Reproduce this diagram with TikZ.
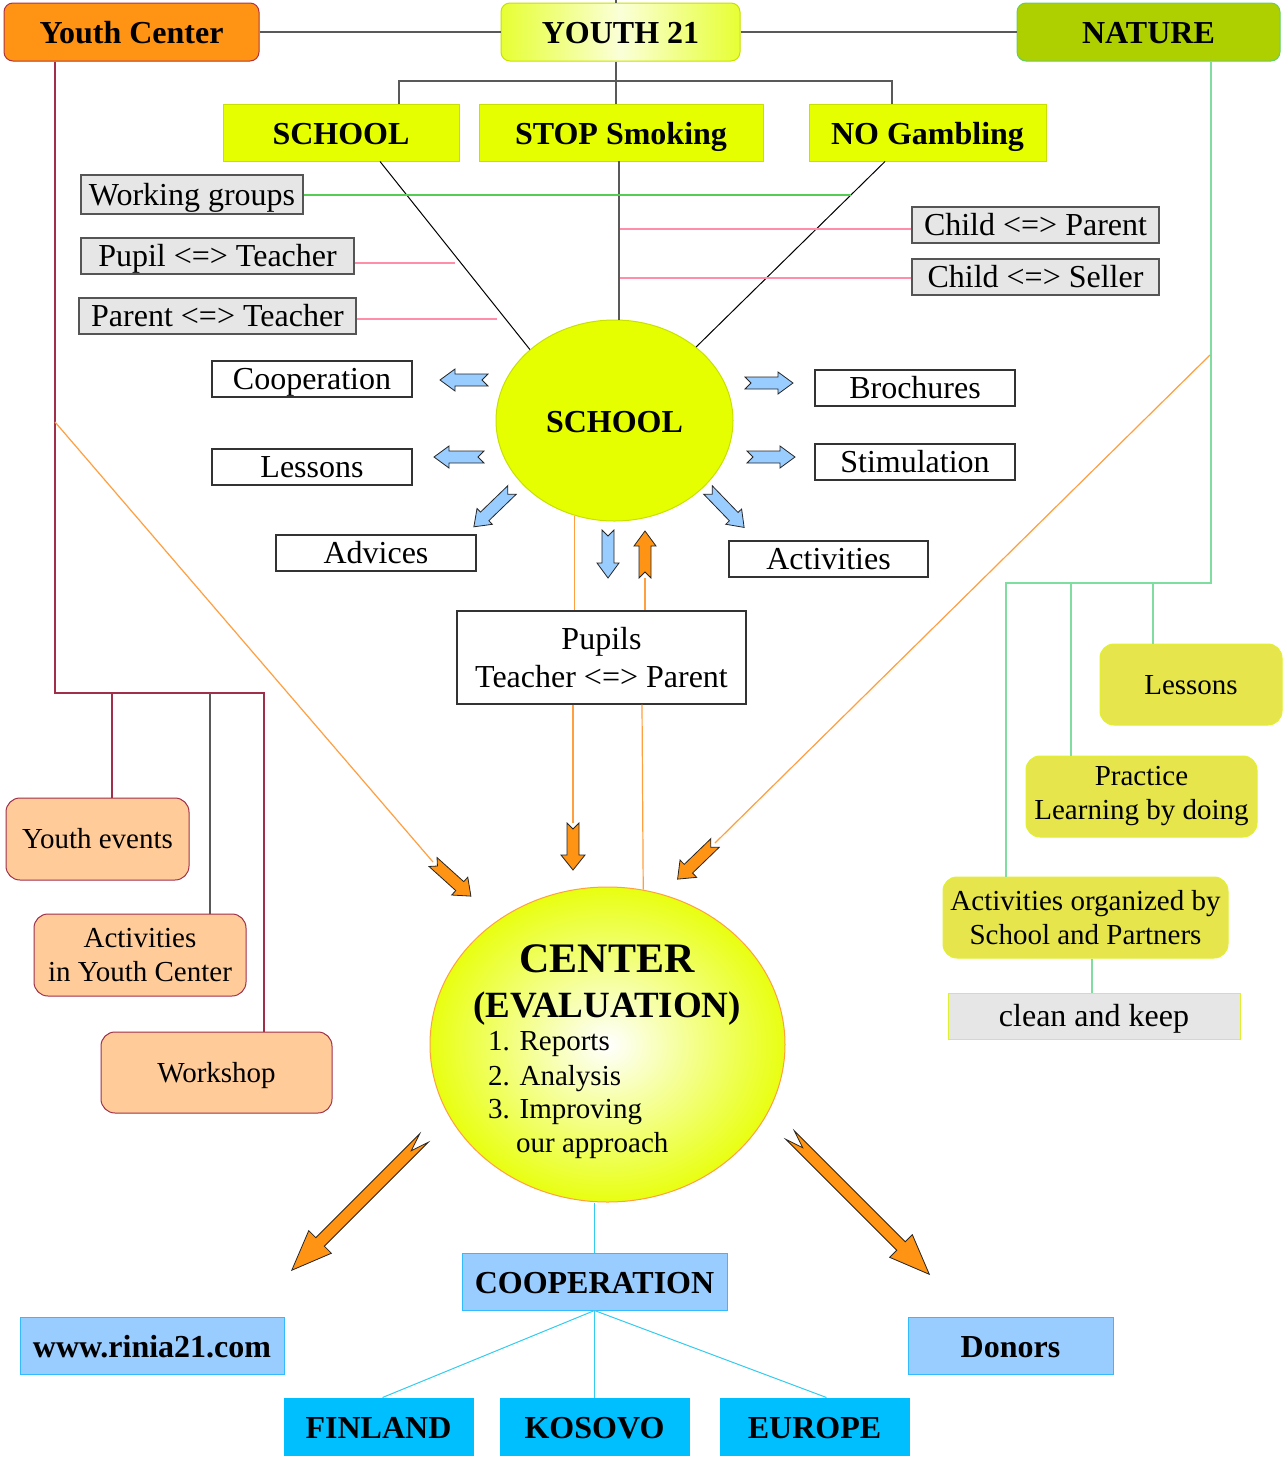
\documentclass[tikz,border=0pt]{standalone}
\usepackage{fontspec}
\setmainfont{Liberation Serif}
\usetikzlibrary{shapes.geometric,calc}
\definecolor{ycOrange}{HTML}{FF9314}
\definecolor{ycBorder}{HTML}{B2333F}
\definecolor{natGreen}{HTML}{AECF00}
\definecolor{natBorder}{HTML}{66CC66}
\definecolor{yel}{HTML}{E6FF00}
\definecolor{yelBorder}{HTML}{C8E000}
\definecolor{yEdge}{HTML}{E6FF33}
\definecolor{yMid}{HTML}{FBFFD8}
\definecolor{grayFill}{HTML}{E6E6E6}
\definecolor{grayBorder}{HTML}{555555}
\definecolor{lblue}{HTML}{99CCFF}
\definecolor{lblueBorder}{HTML}{33BBFF}
\definecolor{cblue}{HTML}{00BFFF}
\definecolor{cyanLine}{HTML}{33CCEE}
\definecolor{peach}{HTML}{FFCC99}
\definecolor{maroon}{HTML}{A0304A}
\definecolor{olive}{HTML}{E6E64C}
\definecolor{oliveBorder}{HTML}{E0F030}
\definecolor{natLine}{HTML}{80DDA0}
\definecolor{pinkLine}{HTML}{FF8FA8}
\definecolor{wgGreen}{HTML}{55CC55}
\definecolor{orLine}{HTML}{FF9F3F}
\definecolor{arrOrange}{HTML}{FF9314}
\definecolor{cenYel}{HTML}{E8FF10}

\newcommand\myblockarrow[9]{%
\begin{scope}[shift={(#2,#3)},rotate=#4]
\draw[fill=#1,draw=black!85,line width=0.8pt,line join=miter]
 (0,{-#6}) -- ({#5-#8},{-#6}) -- ({#5-#8},{-#7}) -- (#5,0) -- ({#5-#8},#7) -- ({#5-#8},#6) -- (0,#6) -- (#9,0) -- cycle;
\end{scope}}

\tikzset{
 every node/.style={inner sep=0pt, align=center},
 fbig/.style={font=\fontsize{32}{38}\selectfont},
 fbold/.style={font=\bfseries\fontsize{32}{38}\selectfont},
 fsmall/.style={font=\fontsize{29}{34}\selectfont},
 t1/.style={text height=27pt, text depth=6pt},
 tb/.style={text height=29pt, text depth=6pt},
 ts/.style={text height=25pt, text depth=6pt},
 wh/.style 2 args={minimum width=#1pt, minimum height=#2pt},
 topbox/.style={rounded corners=9pt, fbold, tb, line width=1pt},
 yelbox/.style={fill=yel, draw=yelBorder, line width=1pt, fbold, tb},
 graybox/.style={fill=grayFill, draw=grayBorder, line width=1.2pt, fbig, t1},
 whitebox/.style={fill=white, draw=black!80, line width=1.2pt, fbig},
 peachbox/.style={fill=peach, draw=maroon, rounded corners=14pt, line width=1pt, fsmall},
 olivebox/.style={fill=olive, draw=oliveBorder, rounded corners=14pt, line width=1pt, fsmall},
 bluebox/.style={fill=lblue, draw=lblueBorder, line width=1pt, fbold, tb},
 cbox/.style={fill=cblue, draw=cblue, line width=1pt, fbold, tb},
 gline/.style={draw=black!65, line width=1.2pt},
 bline/.style={draw=black, line width=1pt},
 pinkl/.style={draw=pinkLine, line width=1.2pt},
 wgline/.style={draw=wgGreen, line width=1.2pt},
 mline/.style={draw=maroon, line width=1.2pt},
 nline/.style={draw=natLine, line width=1.3pt},
 oline/.style={draw=orLine, line width=1.2pt},
 cline/.style={draw=cyanLine, line width=1pt},
}

\begin{document}
\begin{tikzpicture}[x=1pt,y=-1pt]
\useasboundingbox (0,0) rectangle (1283,1457);
\fill[white] (0,0) rectangle (1283,1457);

% top row
\node[topbox, fill=ycOrange, draw=ycBorder, wh={255}{58}] (yc) at (131.5,32) {Youth Center};
\node[topbox, left color=yEdge, right color=yEdge, middle color=yMid, draw=yelBorder, wh={239}{58}] (y21) at (620.5,32) {YOUTH 21};
\node[topbox, fill=natGreen, draw=natBorder, wh={263}{58}] (nat) at (1148.5,32) {NATURE};

% second row
\node[yelbox, wh={236}{57}] (sch) at (341,132.5) {SCHOOL};
\node[yelbox, wh={284}{57}] (stop) at (621,132.5) {STOP Smoking};
\node[yelbox, wh={237}{57}] (nog) at (927.5,132.5) {NO Gambling};

% gray boxes
\node[graybox, wh={222}{39}] (wg) at (192,194.5) {Working groups};
\node[graybox, wh={273}{36}] (pt) at (217.5,256) {Pupil <=> Teacher};
\node[graybox, wh={277}{36}] (prt) at (217.5,316) {Parent <=> Teacher};
\node[graybox, wh={247}{36}] (cp) at (1035.5,225) {Child <=> Parent};
\node[graybox, wh={247}{36}] (cs) at (1035.5,277) {Child <=> Seller};

% school ellipse
\node[ellipse, fill=yel, draw=yelBorder, line width=1pt, wh={237}{201}, fbold, tb] (schE) at (614.5,420.5) {SCHOOL};

% white boxes
\node[whitebox, t1, wh={200}{36}] (coop) at (312,379) {Cooperation};
\node[whitebox, t1, wh={200}{36}] (less) at (312,467) {Lessons};
\node[whitebox, t1, wh={200}{36}] (adv) at (376,553) {Advices};
\node[whitebox, t1, wh={200}{36}] (broch) at (915,388) {Brochures};
\node[whitebox, t1, wh={200}{36}] (stim) at (915,462) {Stimulation};
\node[whitebox, t1, wh={199}{36}] (act) at (828.5,559) {Activities};
\node[whitebox, wh={289}{93}] (pup) at (601.5,657.5) {Pupils\\Teacher <=> Parent};

% center ellipse
\node[ellipse, inner color=white, outer color=cenYel, draw=orLine, line width=1pt, wh={355}{315}] (cen) at (607.5,1044.5) {};
\node[font=\bfseries\fontsize{42}{46}\selectfont, anchor=base] (cenA) at (607,972) {CENTER};
\node[font=\bfseries\fontsize{37}{42}\selectfont, anchor=base] (cenB) at (607,1017) {(EVALUATION)};
\node[fsmall, anchor=base west] (cl1) at (488,1050) {1. Reports};
\node[fsmall, anchor=base west] (cl2) at (488,1085) {2. Analysis};
\node[fsmall, anchor=base west] (cl3) at (488,1118) {3. Improving};
\node[fsmall, anchor=base west] (cl4) at (516,1152) {our approach};

% bottom boxes
\node[bluebox, wh={265}{57}] (coo2) at (594.5,1281.5) {COOPERATION};
\node[bluebox, wh={264}{57}] (www) at (152,1345.5) {www.rinia21.com};
\node[bluebox, wh={205}{57}] (don) at (1010.5,1345.5) {Donors};
\node[cbox, wh={189}{57}] (fin) at (378.5,1426.5) {FINLAND};
\node[cbox, wh={189}{57}] (kos) at (594.5,1426.5) {KOSOVO};
\node[cbox, wh={189}{57}] (eur) at (814.5,1426.5) {EUROPE};

% left peach boxes
\node[peachbox, ts, wh={183}{82}] (ye) at (97.5,839) {Youth events};
\node[peachbox, wh={212}{82}] (ayc) at (140,955) {Activities\\in Youth Center};
\node[peachbox, ts, wh={231}{81}] (ws) at (216.5,1072.5) {Workshop};

% right olive boxes
\node[olivebox, ts, wh={182}{81}] (les2) at (1191,684.5) {Lessons};
\node[olivebox, wh={231}{81}] (prac) at (1141.5,796.5) {Practice\\Learning by doing};
\node[olivebox, wh={285}{81}] (aosp) at (1085.5,917.5) {Activities organized by\\School and Partners};
\node[fill=grayFill, draw=oliveBorder, line width=1pt, fbig, t1, wh={292}{46}] (ck) at (1094,1016) {clean and keep};

% top connectors
\coordinate (top) at (616,0);
\coordinate (bus) at (616,81);
\coordinate (bL) at (399,81);
\coordinate (bR) at (892,81);
\draw[gline] (yc.east) -- (y21.west);
\draw[gline] (y21.east) -- (nat.west);
\draw[gline] (top) -- (top |- y21.north);
\draw[gline] (bus |- y21.south) -- (bus |- stop.north);
\draw[gline] (bL |- sch.north) -- (bL) -- (bR) -- (bR |- nog.north);

\coordinate (schA) at ([xshift=39pt]sch.south);
\coordinate (nogA) at ([xshift=-42.5pt]nog.south);
\draw[bline] (schA) -- (schE.140);
\draw[bline] (nogA) -- (schE.42);
\coordinate (stopL) at (619,161);
\draw[gline] (stopL) -- (stopL |- schE.north);

\coordinate (wgE) at (851,195);
\coordinate (ptE) at (455,263);
\coordinate (prE) at (497,319);
\coordinate (cpE) at (620,229);
\coordinate (csE) at (620,278);
\draw[wgline] (wg.east |- wgE) -- (wgE);
\draw[pinkl] (pt.east |- ptE) -- (ptE);
\draw[pinkl] (prt.east |- prE) -- (prE);
\draw[pinkl] (cp.west |- cpE) -- (cpE);
\draw[pinkl] (cs.west |- csE) -- (csE);

% youth center tree
\coordinate (ycT) at (55,693);
\coordinate (ycR) at (264,693);
\coordinate (yeT) at (112,693);
\coordinate (aycT) at (210,693);
\draw[mline] (yc.south -| ycT) -- (ycT) -- (ycR) -- (ycR |- ws.north);
\draw[mline] (yeT) -- (yeT |- ye.north);
\draw[gline] (aycT) -- (aycT |- ayc.north);

% nature tree
\coordinate (natT) at (1211,583);
\coordinate (natL) at (1006,583);
\coordinate (lesT) at (1153,583);
\coordinate (pracT) at (1071,583);
\coordinate (ckT) at (1092,958);
\draw[nline] (nat.south -| natT) -- (natT) -- (natL) -- (natL |- aosp.north);
\draw[nline] (lesT) -- (lesT |- les2.north);
\draw[nline] (pracT) -- (pracT |- prac.north);
\draw[nline] (ckT |- aosp.south) -- (ckT |- ck.north);

% orange thin lines
\coordinate (ycO) at (55,422);
\coordinate (natO) at (1210,355);
\coordinate (t8) at (645,578);
\coordinate (t9) at (433,862);
\coordinate (t10) at (573,823);
\coordinate (t11) at (715,843);
\coordinate (pc) at (642,703);
\draw[oline] (ycO) -- (t9);
\draw[oline] (natO) -- (t11);
\draw[oline] (t10 |- pup.south) -- (t10);
\draw[oline] (pc |- pup.south) -- (cen.77);
\draw[oline] (schE.247) -- (schE.247 |- pup.north);
\draw[oline] (t8) -- (t8 |- pup.north);

% cyan lines
\draw[cline] (coo2.north) -- (coo2.north |- cen.south);
\draw[cline] (coo2.south) -- ([xshift=4pt]fin.north);
\draw[cline] (coo2.south) -- (kos.north);
\draw[cline] (coo2.south) -- ([xshift=12pt]eur.north);

% block arrows
\myblockarrow{lblue}{488}{380}{180}{48}{6}{11}{15}{6}
\myblockarrow{lblue}{484}{457}{180}{50}{6}{11}{15}{6}
\myblockarrow{lblue}{512}{490}{224}{53}{6}{11}{15}{6}
\myblockarrow{lblue}{745}{383}{0}{48}{6}{11}{15}{6}
\myblockarrow{lblue}{747}{457}{0}{48}{6}{11}{15}{6}
\myblockarrow{lblue}{708}{490}{314}{52}{6}{11}{15}{6}
\myblockarrow{lblue}{608}{530}{270}{48}{6}{11}{15}{6}
\myblockarrow{arrOrange}{645}{578}{90}{47}{6}{11}{15}{6}
\myblockarrow{arrOrange}{433}{862}{318}{51}{6}{12}{15}{6}
\myblockarrow{arrOrange}{573}{823}{270}{47}{6}{12}{15}{6}
\myblockarrow{arrOrange}{715}{843}{224}{52}{6}{12}{15}{6}
\myblockarrow{arrOrange}{424}{1138}{225}{187}{6}{16}{40}{18}
\myblockarrow{arrOrange}{790}{1135}{315}{197}{6}{16}{40}{18}
\end{tikzpicture}
\end{document}
